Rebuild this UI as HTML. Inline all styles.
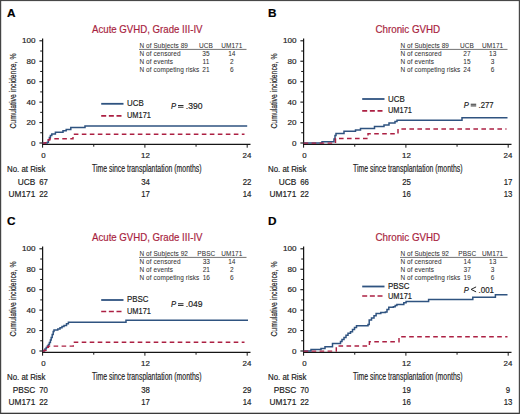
<!DOCTYPE html>
<html><head><meta charset="utf-8"><style>
html,body{margin:0;padding:0;background:#fff;}
svg{display:block;font-family:"Liberation Sans", sans-serif;}

</style></head><body>
<svg width="520" height="414" viewBox="0 0 520 414">
<rect x="0" y="0" width="520" height="414" fill="#fff"/>
<text x="7.00" y="17.10" font-size="11.8" fill="#000" stroke="#000" stroke-width="0.18" text-anchor="start" font-weight="bold">A</text>
<text x="92.00" y="32.50" font-size="10.6" fill="#a81e3e" stroke="#a81e3e" stroke-width="0.18" text-anchor="start" textLength="110.50" lengthAdjust="spacingAndGlyphs">Acute GVHD, Grade III-IV</text>
<text transform="translate(15.8,128.6) rotate(-90)" font-size="9.9" fill="#222" stroke="#222" stroke-width="0.18" textLength="75.2" lengthAdjust="spacingAndGlyphs">Cumulative incidence, %</text>
<line x1="42.60" y1="38.50" x2="42.60" y2="144.90" stroke="#151515" stroke-width="1.25"/>
<line x1="42.00" y1="144.30" x2="250.50" y2="144.30" stroke="#151515" stroke-width="1.2"/>
<line x1="39.40" y1="143.00" x2="42.60" y2="143.00" stroke="#151515" stroke-width="1.1"/>
<text x="35.50" y="145.60" font-size="7.9" fill="#222" stroke="#222" stroke-width="0.18" text-anchor="end" textLength="4.50" lengthAdjust="spacingAndGlyphs">0</text>
<line x1="40.20" y1="132.78" x2="42.60" y2="132.78" stroke="#151515" stroke-width="1.0"/>
<line x1="39.40" y1="122.56" x2="42.60" y2="122.56" stroke="#151515" stroke-width="1.1"/>
<text x="35.50" y="125.16" font-size="7.9" fill="#222" stroke="#222" stroke-width="0.18" text-anchor="end" textLength="9.01" lengthAdjust="spacingAndGlyphs">20</text>
<line x1="40.20" y1="112.34" x2="42.60" y2="112.34" stroke="#151515" stroke-width="1.0"/>
<line x1="39.40" y1="102.12" x2="42.60" y2="102.12" stroke="#151515" stroke-width="1.1"/>
<text x="35.50" y="104.72" font-size="7.9" fill="#222" stroke="#222" stroke-width="0.18" text-anchor="end" textLength="9.01" lengthAdjust="spacingAndGlyphs">40</text>
<line x1="40.20" y1="91.90" x2="42.60" y2="91.90" stroke="#151515" stroke-width="1.0"/>
<line x1="39.40" y1="81.68" x2="42.60" y2="81.68" stroke="#151515" stroke-width="1.1"/>
<text x="35.50" y="84.28" font-size="7.9" fill="#222" stroke="#222" stroke-width="0.18" text-anchor="end" textLength="9.01" lengthAdjust="spacingAndGlyphs">60</text>
<line x1="40.20" y1="71.46" x2="42.60" y2="71.46" stroke="#151515" stroke-width="1.0"/>
<line x1="39.40" y1="61.24" x2="42.60" y2="61.24" stroke="#151515" stroke-width="1.1"/>
<text x="35.50" y="63.84" font-size="7.9" fill="#222" stroke="#222" stroke-width="0.18" text-anchor="end" textLength="9.01" lengthAdjust="spacingAndGlyphs">80</text>
<line x1="40.20" y1="51.02" x2="42.60" y2="51.02" stroke="#151515" stroke-width="1.0"/>
<line x1="39.40" y1="40.80" x2="42.60" y2="40.80" stroke="#151515" stroke-width="1.1"/>
<text x="35.50" y="43.40" font-size="7.9" fill="#222" stroke="#222" stroke-width="0.18" text-anchor="end" textLength="13.51" lengthAdjust="spacingAndGlyphs">100</text>
<line x1="42.60" y1="144.30" x2="42.60" y2="147.70" stroke="#151515" stroke-width="1.0"/>
<text x="43.50" y="157.90" font-size="7.9" fill="#222" stroke="#222" stroke-width="0.18" text-anchor="middle" textLength="4.39" lengthAdjust="spacingAndGlyphs">0</text>
<line x1="93.75" y1="144.30" x2="93.75" y2="146.70" stroke="#151515" stroke-width="1.0"/>
<line x1="144.90" y1="144.30" x2="144.90" y2="147.70" stroke="#151515" stroke-width="1.0"/>
<text x="145.50" y="157.90" font-size="7.9" fill="#222" stroke="#222" stroke-width="0.18" text-anchor="middle" textLength="8.79" lengthAdjust="spacingAndGlyphs">12</text>
<line x1="196.05" y1="144.30" x2="196.05" y2="146.70" stroke="#151515" stroke-width="1.0"/>
<line x1="247.20" y1="144.30" x2="247.20" y2="147.70" stroke="#151515" stroke-width="1.0"/>
<text x="247.00" y="157.90" font-size="7.9" fill="#222" stroke="#222" stroke-width="0.18" text-anchor="middle" textLength="8.79" lengthAdjust="spacingAndGlyphs">24</text>
<text x="92.00" y="171.90" font-size="10.3" fill="#222" stroke="#222" stroke-width="0.18" text-anchor="start" textLength="109.50" lengthAdjust="spacingAndGlyphs">Time since transplantation (months)</text>
<text x="7.00" y="172.00" font-size="8.9" fill="#222" stroke="#222" stroke-width="0.18" text-anchor="start" textLength="38.50" lengthAdjust="spacingAndGlyphs">No. at Risk</text>
<text x="35.30" y="184.70" font-size="8.9" fill="#222" stroke="#222" stroke-width="0.18" text-anchor="end" textLength="17.57" lengthAdjust="spacingAndGlyphs">UCB</text>
<text x="43.50" y="184.70" font-size="8.9" fill="#222" stroke="#222" stroke-width="0.18" text-anchor="middle" textLength="8.68" lengthAdjust="spacingAndGlyphs">67</text>
<text x="145.50" y="184.70" font-size="8.9" fill="#222" stroke="#222" stroke-width="0.18" text-anchor="middle" textLength="8.68" lengthAdjust="spacingAndGlyphs">34</text>
<text x="247.00" y="184.70" font-size="8.9" fill="#222" stroke="#222" stroke-width="0.18" text-anchor="middle" textLength="8.68" lengthAdjust="spacingAndGlyphs">22</text>
<text x="35.30" y="197.20" font-size="8.9" fill="#222" stroke="#222" stroke-width="0.18" text-anchor="end" textLength="26.82" lengthAdjust="spacingAndGlyphs">UM171</text>
<text x="43.50" y="197.20" font-size="8.9" fill="#222" stroke="#222" stroke-width="0.18" text-anchor="middle" textLength="8.68" lengthAdjust="spacingAndGlyphs">22</text>
<text x="145.50" y="197.20" font-size="8.9" fill="#222" stroke="#222" stroke-width="0.18" text-anchor="middle" textLength="8.68" lengthAdjust="spacingAndGlyphs">17</text>
<text x="247.00" y="197.20" font-size="8.9" fill="#222" stroke="#222" stroke-width="0.18" text-anchor="middle" textLength="8.68" lengthAdjust="spacingAndGlyphs">14</text>
<text x="139.50" y="47.80" font-size="6.45" fill="#333" stroke="#333" stroke-width="0.05" text-anchor="start" textLength="48.43" lengthAdjust="spacing">N of Subjects 89</text>
<text x="139.50" y="55.80" font-size="6.45" fill="#333" stroke="#333" stroke-width="0.05" text-anchor="start" textLength="41.09" lengthAdjust="spacing">N of censored</text>
<text x="139.50" y="63.80" font-size="6.45" fill="#333" stroke="#333" stroke-width="0.05" text-anchor="start" textLength="33.38" lengthAdjust="spacing">N of events</text>
<text x="139.50" y="71.90" font-size="6.45" fill="#333" stroke="#333" stroke-width="0.05" text-anchor="start" textLength="59.79" lengthAdjust="spacing">N of competing risks</text>
<text x="206.00" y="47.80" font-size="6.5" fill="#333" stroke="#333" stroke-width="0.05" text-anchor="middle" textLength="13.93" lengthAdjust="spacing">UCB</text>
<text x="231.80" y="47.80" font-size="6.5" fill="#333" stroke="#333" stroke-width="0.05" text-anchor="middle" textLength="21.28" lengthAdjust="spacing">UM171</text>
<text x="206.00" y="55.80" font-size="6.5" fill="#333" stroke="#333" stroke-width="0.05" text-anchor="middle" textLength="7.34" lengthAdjust="spacing">35</text>
<text x="231.80" y="55.80" font-size="6.5" fill="#333" stroke="#333" stroke-width="0.05" text-anchor="middle" textLength="7.34" lengthAdjust="spacing">14</text>
<text x="206.00" y="63.80" font-size="6.5" fill="#333" stroke="#333" stroke-width="0.05" text-anchor="middle" textLength="6.85" lengthAdjust="spacing">11</text>
<text x="231.80" y="63.80" font-size="6.5" fill="#333" stroke="#333" stroke-width="0.05" text-anchor="middle" textLength="3.67" lengthAdjust="spacing">2</text>
<text x="206.00" y="71.90" font-size="6.5" fill="#333" stroke="#333" stroke-width="0.05" text-anchor="middle" textLength="7.34" lengthAdjust="spacing">21</text>
<text x="231.80" y="71.90" font-size="6.5" fill="#333" stroke="#333" stroke-width="0.05" text-anchor="middle" textLength="3.67" lengthAdjust="spacing">6</text>
<line x1="139.00" y1="49.40" x2="246.50" y2="49.40" stroke="#444" stroke-width="0.75"/>
<line x1="101.20" y1="103.80" x2="123.50" y2="103.80" stroke="#2f5380" stroke-width="1.8"/>
<line x1="101.20" y1="115.80" x2="123.50" y2="115.80" stroke="#ac2043" stroke-width="1.7" stroke-dasharray="5 2.65"/>
<text x="127.00" y="106.00" font-size="8.7" fill="#222" stroke="#222" stroke-width="0.18" text-anchor="start" textLength="16.68" lengthAdjust="spacingAndGlyphs">UCB</text>
<text x="127.00" y="117.80" font-size="8.7" fill="#222" stroke="#222" stroke-width="0.18" text-anchor="start" textLength="23.90" lengthAdjust="spacingAndGlyphs">UM171</text>
<text x="171.00" y="108.80" font-size="8.6" fill="#222" stroke="#222" stroke-width="0.18" text-anchor="start" textLength="5.10" lengthAdjust="spacingAndGlyphs" font-style="italic">P</text>
<rect x="178.00" y="105.05" width="5.5" height="0.95" fill="#222"/>
<rect x="178.00" y="106.75" width="5.5" height="0.95" fill="#222"/>
<text x="185.80" y="108.80" font-size="8.8" fill="#222" stroke="#222" stroke-width="0.18" text-anchor="start" textLength="16.70" lengthAdjust="spacingAndGlyphs">.390</text>
<path d="M42.60,143.10 H47.40 V142.20 H48.40 V139.80 H49.40 V137.40 H50.40 V135.40 H51.80 V134.00 H55.40 V132.30 H63.00 V130.80 H66.20 V129.40 H70.80 V127.60 H85.00 V125.90 H247.20" fill="none" stroke="#2f5380" stroke-width="1.5"/>
<path d="M42.60,143.10 H45.20 V142.60 H46.80 V141.20 H48.40 V139.80 H49.80 V138.80 H73.00 V134.30 H244.50" fill="none" stroke="#ac2043" stroke-width="1.45" stroke-dasharray="4.6 3.4"/>
<text x="268.00" y="17.10" font-size="11.8" fill="#000" stroke="#000" stroke-width="0.18" text-anchor="start" font-weight="bold">B</text>
<text x="375.40" y="32.50" font-size="10.6" fill="#a81e3e" stroke="#a81e3e" stroke-width="0.18" text-anchor="start" textLength="64.80" lengthAdjust="spacingAndGlyphs">Chronic GVHD</text>
<text transform="translate(276.8,128.6) rotate(-90)" font-size="9.9" fill="#222" stroke="#222" stroke-width="0.18" textLength="75.2" lengthAdjust="spacingAndGlyphs">Cumulative incidence, %</text>
<line x1="303.60" y1="38.50" x2="303.60" y2="144.90" stroke="#151515" stroke-width="1.25"/>
<line x1="303.00" y1="144.30" x2="511.50" y2="144.30" stroke="#151515" stroke-width="1.2"/>
<line x1="300.40" y1="143.00" x2="303.60" y2="143.00" stroke="#151515" stroke-width="1.1"/>
<text x="296.50" y="145.60" font-size="7.9" fill="#222" stroke="#222" stroke-width="0.18" text-anchor="end" textLength="4.50" lengthAdjust="spacingAndGlyphs">0</text>
<line x1="301.20" y1="132.78" x2="303.60" y2="132.78" stroke="#151515" stroke-width="1.0"/>
<line x1="300.40" y1="122.56" x2="303.60" y2="122.56" stroke="#151515" stroke-width="1.1"/>
<text x="296.50" y="125.16" font-size="7.9" fill="#222" stroke="#222" stroke-width="0.18" text-anchor="end" textLength="9.01" lengthAdjust="spacingAndGlyphs">20</text>
<line x1="301.20" y1="112.34" x2="303.60" y2="112.34" stroke="#151515" stroke-width="1.0"/>
<line x1="300.40" y1="102.12" x2="303.60" y2="102.12" stroke="#151515" stroke-width="1.1"/>
<text x="296.50" y="104.72" font-size="7.9" fill="#222" stroke="#222" stroke-width="0.18" text-anchor="end" textLength="9.01" lengthAdjust="spacingAndGlyphs">40</text>
<line x1="301.20" y1="91.90" x2="303.60" y2="91.90" stroke="#151515" stroke-width="1.0"/>
<line x1="300.40" y1="81.68" x2="303.60" y2="81.68" stroke="#151515" stroke-width="1.1"/>
<text x="296.50" y="84.28" font-size="7.9" fill="#222" stroke="#222" stroke-width="0.18" text-anchor="end" textLength="9.01" lengthAdjust="spacingAndGlyphs">60</text>
<line x1="301.20" y1="71.46" x2="303.60" y2="71.46" stroke="#151515" stroke-width="1.0"/>
<line x1="300.40" y1="61.24" x2="303.60" y2="61.24" stroke="#151515" stroke-width="1.1"/>
<text x="296.50" y="63.84" font-size="7.9" fill="#222" stroke="#222" stroke-width="0.18" text-anchor="end" textLength="9.01" lengthAdjust="spacingAndGlyphs">80</text>
<line x1="301.20" y1="51.02" x2="303.60" y2="51.02" stroke="#151515" stroke-width="1.0"/>
<line x1="300.40" y1="40.80" x2="303.60" y2="40.80" stroke="#151515" stroke-width="1.1"/>
<text x="296.50" y="43.40" font-size="7.9" fill="#222" stroke="#222" stroke-width="0.18" text-anchor="end" textLength="13.51" lengthAdjust="spacingAndGlyphs">100</text>
<line x1="303.60" y1="144.30" x2="303.60" y2="147.70" stroke="#151515" stroke-width="1.0"/>
<text x="304.50" y="157.90" font-size="7.9" fill="#222" stroke="#222" stroke-width="0.18" text-anchor="middle" textLength="4.39" lengthAdjust="spacingAndGlyphs">0</text>
<line x1="354.75" y1="144.30" x2="354.75" y2="146.70" stroke="#151515" stroke-width="1.0"/>
<line x1="405.90" y1="144.30" x2="405.90" y2="147.70" stroke="#151515" stroke-width="1.0"/>
<text x="406.50" y="157.90" font-size="7.9" fill="#222" stroke="#222" stroke-width="0.18" text-anchor="middle" textLength="8.79" lengthAdjust="spacingAndGlyphs">12</text>
<line x1="457.05" y1="144.30" x2="457.05" y2="146.70" stroke="#151515" stroke-width="1.0"/>
<line x1="508.20" y1="144.30" x2="508.20" y2="147.70" stroke="#151515" stroke-width="1.0"/>
<text x="508.00" y="157.90" font-size="7.9" fill="#222" stroke="#222" stroke-width="0.18" text-anchor="middle" textLength="8.79" lengthAdjust="spacingAndGlyphs">24</text>
<text x="353.00" y="171.90" font-size="10.3" fill="#222" stroke="#222" stroke-width="0.18" text-anchor="start" textLength="109.50" lengthAdjust="spacingAndGlyphs">Time since transplantation (months)</text>
<text x="268.00" y="172.00" font-size="8.9" fill="#222" stroke="#222" stroke-width="0.18" text-anchor="start" textLength="38.50" lengthAdjust="spacingAndGlyphs">No. at Risk</text>
<text x="296.30" y="184.70" font-size="8.9" fill="#222" stroke="#222" stroke-width="0.18" text-anchor="end" textLength="17.57" lengthAdjust="spacingAndGlyphs">UCB</text>
<text x="304.50" y="184.70" font-size="8.9" fill="#222" stroke="#222" stroke-width="0.18" text-anchor="middle" textLength="8.68" lengthAdjust="spacingAndGlyphs">66</text>
<text x="406.50" y="184.70" font-size="8.9" fill="#222" stroke="#222" stroke-width="0.18" text-anchor="middle" textLength="8.68" lengthAdjust="spacingAndGlyphs">25</text>
<text x="508.00" y="184.70" font-size="8.9" fill="#222" stroke="#222" stroke-width="0.18" text-anchor="middle" textLength="8.68" lengthAdjust="spacingAndGlyphs">17</text>
<text x="296.30" y="197.20" font-size="8.9" fill="#222" stroke="#222" stroke-width="0.18" text-anchor="end" textLength="26.82" lengthAdjust="spacingAndGlyphs">UM171</text>
<text x="304.50" y="197.20" font-size="8.9" fill="#222" stroke="#222" stroke-width="0.18" text-anchor="middle" textLength="8.68" lengthAdjust="spacingAndGlyphs">22</text>
<text x="406.50" y="197.20" font-size="8.9" fill="#222" stroke="#222" stroke-width="0.18" text-anchor="middle" textLength="8.68" lengthAdjust="spacingAndGlyphs">16</text>
<text x="508.00" y="197.20" font-size="8.9" fill="#222" stroke="#222" stroke-width="0.18" text-anchor="middle" textLength="8.68" lengthAdjust="spacingAndGlyphs">13</text>
<text x="400.50" y="47.80" font-size="6.45" fill="#333" stroke="#333" stroke-width="0.05" text-anchor="start" textLength="48.43" lengthAdjust="spacing">N of Subjects 89</text>
<text x="400.50" y="55.80" font-size="6.45" fill="#333" stroke="#333" stroke-width="0.05" text-anchor="start" textLength="41.09" lengthAdjust="spacing">N of censored</text>
<text x="400.50" y="63.80" font-size="6.45" fill="#333" stroke="#333" stroke-width="0.05" text-anchor="start" textLength="33.38" lengthAdjust="spacing">N of events</text>
<text x="400.50" y="71.90" font-size="6.45" fill="#333" stroke="#333" stroke-width="0.05" text-anchor="start" textLength="59.79" lengthAdjust="spacing">N of competing risks</text>
<text x="467.00" y="47.80" font-size="6.5" fill="#333" stroke="#333" stroke-width="0.05" text-anchor="middle" textLength="13.93" lengthAdjust="spacing">UCB</text>
<text x="492.60" y="47.80" font-size="6.5" fill="#333" stroke="#333" stroke-width="0.05" text-anchor="middle" textLength="21.28" lengthAdjust="spacing">UM171</text>
<text x="467.00" y="55.80" font-size="6.5" fill="#333" stroke="#333" stroke-width="0.05" text-anchor="middle" textLength="7.34" lengthAdjust="spacing">27</text>
<text x="492.60" y="55.80" font-size="6.5" fill="#333" stroke="#333" stroke-width="0.05" text-anchor="middle" textLength="7.34" lengthAdjust="spacing">13</text>
<text x="467.00" y="63.80" font-size="6.5" fill="#333" stroke="#333" stroke-width="0.05" text-anchor="middle" textLength="7.34" lengthAdjust="spacing">15</text>
<text x="492.60" y="63.80" font-size="6.5" fill="#333" stroke="#333" stroke-width="0.05" text-anchor="middle" textLength="3.67" lengthAdjust="spacing">3</text>
<text x="467.00" y="71.90" font-size="6.5" fill="#333" stroke="#333" stroke-width="0.05" text-anchor="middle" textLength="7.34" lengthAdjust="spacing">24</text>
<text x="492.60" y="71.90" font-size="6.5" fill="#333" stroke="#333" stroke-width="0.05" text-anchor="middle" textLength="3.67" lengthAdjust="spacing">6</text>
<line x1="400.00" y1="49.40" x2="507.50" y2="49.40" stroke="#444" stroke-width="0.75"/>
<line x1="362.20" y1="99.00" x2="384.50" y2="99.00" stroke="#2f5380" stroke-width="1.8"/>
<line x1="362.20" y1="110.80" x2="384.50" y2="110.80" stroke="#ac2043" stroke-width="1.7" stroke-dasharray="5 2.65"/>
<text x="388.00" y="101.60" font-size="8.7" fill="#222" stroke="#222" stroke-width="0.18" text-anchor="start" textLength="16.68" lengthAdjust="spacingAndGlyphs">UCB</text>
<text x="388.00" y="113.20" font-size="8.7" fill="#222" stroke="#222" stroke-width="0.18" text-anchor="start" textLength="23.90" lengthAdjust="spacingAndGlyphs">UM171</text>
<text x="463.70" y="107.50" font-size="8.6" fill="#222" stroke="#222" stroke-width="0.18" text-anchor="start" textLength="5.10" lengthAdjust="spacingAndGlyphs" font-style="italic">P</text>
<rect x="470.70" y="103.75" width="5.5" height="0.95" fill="#222"/>
<rect x="470.70" y="105.45" width="5.5" height="0.95" fill="#222"/>
<text x="478.50" y="107.50" font-size="8.8" fill="#222" stroke="#222" stroke-width="0.18" text-anchor="start" textLength="15.00" lengthAdjust="spacingAndGlyphs">.277</text>
<path d="M303.60,143.10 H322.00 V141.80 H334.00 V139.00 H335.00 V135.50 H336.00 V133.50 H344.00 V131.30 H355.50 V130.00 H360.50 V128.50 H374.50 V126.50 H384.00 V125.00 H389.00 V123.00 H395.00 V121.50 H397.00 V120.20 H462.00 V117.80 H507.50" fill="none" stroke="#2f5380" stroke-width="1.5"/>
<path d="M303.60,143.10 H335.50 V138.50 H368.00 V133.70 H398.00 V128.90 H506.50" fill="none" stroke="#ac2043" stroke-width="1.45" stroke-dasharray="4.6 3.4"/>
<text x="7.00" y="225.10" font-size="11.8" fill="#000" stroke="#000" stroke-width="0.18" text-anchor="start" font-weight="bold">C</text>
<text x="92.00" y="240.50" font-size="10.6" fill="#a81e3e" stroke="#a81e3e" stroke-width="0.18" text-anchor="start" textLength="110.50" lengthAdjust="spacingAndGlyphs">Acute GVHD, Grade III-IV</text>
<text transform="translate(15.8,336.6) rotate(-90)" font-size="9.9" fill="#222" stroke="#222" stroke-width="0.18" textLength="75.2" lengthAdjust="spacingAndGlyphs">Cumulative incidence, %</text>
<line x1="42.60" y1="246.50" x2="42.60" y2="352.90" stroke="#151515" stroke-width="1.25"/>
<line x1="42.00" y1="352.30" x2="250.50" y2="352.30" stroke="#151515" stroke-width="1.2"/>
<line x1="39.40" y1="351.00" x2="42.60" y2="351.00" stroke="#151515" stroke-width="1.1"/>
<text x="35.50" y="353.60" font-size="7.9" fill="#222" stroke="#222" stroke-width="0.18" text-anchor="end" textLength="4.50" lengthAdjust="spacingAndGlyphs">0</text>
<line x1="40.20" y1="340.78" x2="42.60" y2="340.78" stroke="#151515" stroke-width="1.0"/>
<line x1="39.40" y1="330.56" x2="42.60" y2="330.56" stroke="#151515" stroke-width="1.1"/>
<text x="35.50" y="333.16" font-size="7.9" fill="#222" stroke="#222" stroke-width="0.18" text-anchor="end" textLength="9.01" lengthAdjust="spacingAndGlyphs">20</text>
<line x1="40.20" y1="320.34" x2="42.60" y2="320.34" stroke="#151515" stroke-width="1.0"/>
<line x1="39.40" y1="310.12" x2="42.60" y2="310.12" stroke="#151515" stroke-width="1.1"/>
<text x="35.50" y="312.72" font-size="7.9" fill="#222" stroke="#222" stroke-width="0.18" text-anchor="end" textLength="9.01" lengthAdjust="spacingAndGlyphs">40</text>
<line x1="40.20" y1="299.90" x2="42.60" y2="299.90" stroke="#151515" stroke-width="1.0"/>
<line x1="39.40" y1="289.68" x2="42.60" y2="289.68" stroke="#151515" stroke-width="1.1"/>
<text x="35.50" y="292.28" font-size="7.9" fill="#222" stroke="#222" stroke-width="0.18" text-anchor="end" textLength="9.01" lengthAdjust="spacingAndGlyphs">60</text>
<line x1="40.20" y1="279.46" x2="42.60" y2="279.46" stroke="#151515" stroke-width="1.0"/>
<line x1="39.40" y1="269.24" x2="42.60" y2="269.24" stroke="#151515" stroke-width="1.1"/>
<text x="35.50" y="271.84" font-size="7.9" fill="#222" stroke="#222" stroke-width="0.18" text-anchor="end" textLength="9.01" lengthAdjust="spacingAndGlyphs">80</text>
<line x1="40.20" y1="259.02" x2="42.60" y2="259.02" stroke="#151515" stroke-width="1.0"/>
<line x1="39.40" y1="248.80" x2="42.60" y2="248.80" stroke="#151515" stroke-width="1.1"/>
<text x="35.50" y="251.40" font-size="7.9" fill="#222" stroke="#222" stroke-width="0.18" text-anchor="end" textLength="13.51" lengthAdjust="spacingAndGlyphs">100</text>
<line x1="42.60" y1="352.30" x2="42.60" y2="355.70" stroke="#151515" stroke-width="1.0"/>
<text x="43.50" y="365.90" font-size="7.9" fill="#222" stroke="#222" stroke-width="0.18" text-anchor="middle" textLength="4.39" lengthAdjust="spacingAndGlyphs">0</text>
<line x1="93.75" y1="352.30" x2="93.75" y2="354.70" stroke="#151515" stroke-width="1.0"/>
<line x1="144.90" y1="352.30" x2="144.90" y2="355.70" stroke="#151515" stroke-width="1.0"/>
<text x="145.50" y="365.90" font-size="7.9" fill="#222" stroke="#222" stroke-width="0.18" text-anchor="middle" textLength="8.79" lengthAdjust="spacingAndGlyphs">12</text>
<line x1="196.05" y1="352.30" x2="196.05" y2="354.70" stroke="#151515" stroke-width="1.0"/>
<line x1="247.20" y1="352.30" x2="247.20" y2="355.70" stroke="#151515" stroke-width="1.0"/>
<text x="247.00" y="365.90" font-size="7.9" fill="#222" stroke="#222" stroke-width="0.18" text-anchor="middle" textLength="8.79" lengthAdjust="spacingAndGlyphs">24</text>
<text x="92.00" y="379.90" font-size="10.3" fill="#222" stroke="#222" stroke-width="0.18" text-anchor="start" textLength="109.50" lengthAdjust="spacingAndGlyphs">Time since transplantation (months)</text>
<text x="7.00" y="380.00" font-size="8.9" fill="#222" stroke="#222" stroke-width="0.18" text-anchor="start" textLength="38.50" lengthAdjust="spacingAndGlyphs">No. at Risk</text>
<text x="35.30" y="392.70" font-size="8.9" fill="#222" stroke="#222" stroke-width="0.18" text-anchor="end" textLength="22.66" lengthAdjust="spacingAndGlyphs">PBSC</text>
<text x="43.50" y="392.70" font-size="8.9" fill="#222" stroke="#222" stroke-width="0.18" text-anchor="middle" textLength="8.68" lengthAdjust="spacingAndGlyphs">70</text>
<text x="145.50" y="392.70" font-size="8.9" fill="#222" stroke="#222" stroke-width="0.18" text-anchor="middle" textLength="8.68" lengthAdjust="spacingAndGlyphs">38</text>
<text x="247.00" y="392.70" font-size="8.9" fill="#222" stroke="#222" stroke-width="0.18" text-anchor="middle" textLength="8.68" lengthAdjust="spacingAndGlyphs">29</text>
<text x="35.30" y="405.20" font-size="8.9" fill="#222" stroke="#222" stroke-width="0.18" text-anchor="end" textLength="26.82" lengthAdjust="spacingAndGlyphs">UM171</text>
<text x="43.50" y="405.20" font-size="8.9" fill="#222" stroke="#222" stroke-width="0.18" text-anchor="middle" textLength="8.68" lengthAdjust="spacingAndGlyphs">22</text>
<text x="145.50" y="405.20" font-size="8.9" fill="#222" stroke="#222" stroke-width="0.18" text-anchor="middle" textLength="8.68" lengthAdjust="spacingAndGlyphs">17</text>
<text x="247.00" y="405.20" font-size="8.9" fill="#222" stroke="#222" stroke-width="0.18" text-anchor="middle" textLength="8.68" lengthAdjust="spacingAndGlyphs">14</text>
<text x="139.50" y="255.80" font-size="6.45" fill="#333" stroke="#333" stroke-width="0.05" text-anchor="start" textLength="48.43" lengthAdjust="spacing">N of Subjects 92</text>
<text x="139.50" y="263.80" font-size="6.45" fill="#333" stroke="#333" stroke-width="0.05" text-anchor="start" textLength="41.09" lengthAdjust="spacing">N of censored</text>
<text x="139.50" y="271.80" font-size="6.45" fill="#333" stroke="#333" stroke-width="0.05" text-anchor="start" textLength="33.38" lengthAdjust="spacing">N of events</text>
<text x="139.50" y="279.90" font-size="6.45" fill="#333" stroke="#333" stroke-width="0.05" text-anchor="start" textLength="59.79" lengthAdjust="spacing">N of competing risks</text>
<text x="206.30" y="255.80" font-size="6.5" fill="#333" stroke="#333" stroke-width="0.05" text-anchor="middle" textLength="17.97" lengthAdjust="spacing">PBSC</text>
<text x="231.80" y="255.80" font-size="6.5" fill="#333" stroke="#333" stroke-width="0.05" text-anchor="middle" textLength="21.28" lengthAdjust="spacing">UM171</text>
<text x="206.30" y="263.80" font-size="6.5" fill="#333" stroke="#333" stroke-width="0.05" text-anchor="middle" textLength="7.34" lengthAdjust="spacing">33</text>
<text x="231.80" y="263.80" font-size="6.5" fill="#333" stroke="#333" stroke-width="0.05" text-anchor="middle" textLength="7.34" lengthAdjust="spacing">14</text>
<text x="206.30" y="271.80" font-size="6.5" fill="#333" stroke="#333" stroke-width="0.05" text-anchor="middle" textLength="7.34" lengthAdjust="spacing">21</text>
<text x="231.80" y="271.80" font-size="6.5" fill="#333" stroke="#333" stroke-width="0.05" text-anchor="middle" textLength="3.67" lengthAdjust="spacing">2</text>
<text x="206.30" y="279.90" font-size="6.5" fill="#333" stroke="#333" stroke-width="0.05" text-anchor="middle" textLength="7.34" lengthAdjust="spacing">16</text>
<text x="231.80" y="279.90" font-size="6.5" fill="#333" stroke="#333" stroke-width="0.05" text-anchor="middle" textLength="3.67" lengthAdjust="spacing">6</text>
<line x1="139.00" y1="257.40" x2="246.50" y2="257.40" stroke="#444" stroke-width="0.75"/>
<line x1="101.20" y1="300.00" x2="123.50" y2="300.00" stroke="#2f5380" stroke-width="1.8"/>
<line x1="101.20" y1="311.50" x2="123.50" y2="311.50" stroke="#ac2043" stroke-width="1.7" stroke-dasharray="5 2.65"/>
<text x="127.00" y="302.20" font-size="8.7" fill="#222" stroke="#222" stroke-width="0.18" text-anchor="start" textLength="21.51" lengthAdjust="spacingAndGlyphs">PBSC</text>
<text x="127.00" y="314.00" font-size="8.7" fill="#222" stroke="#222" stroke-width="0.18" text-anchor="start" textLength="23.90" lengthAdjust="spacingAndGlyphs">UM171</text>
<text x="171.00" y="307.00" font-size="8.6" fill="#222" stroke="#222" stroke-width="0.18" text-anchor="start" textLength="5.10" lengthAdjust="spacingAndGlyphs" font-style="italic">P</text>
<rect x="178.00" y="303.25" width="5.5" height="0.95" fill="#222"/>
<rect x="178.00" y="304.95" width="5.5" height="0.95" fill="#222"/>
<text x="185.80" y="307.00" font-size="8.8" fill="#222" stroke="#222" stroke-width="0.18" text-anchor="start" textLength="16.70" lengthAdjust="spacingAndGlyphs">.049</text>
<path d="M42.60,351.10 H44.00 V350.40 H45.00 V349.00 H46.20 V347.60 H47.40 V346.00 H48.40 V344.60 H49.40 V342.60 H50.40 V340.00 H51.20 V337.60 H52.20 V334.50 H53.20 V331.60 H54.00 V330.00 H57.80 V329.00 H60.00 V327.80 H62.00 V326.60 H64.00 V325.60 H66.50 V323.80 H68.40 V322.20 H126.00 V320.30 H248.00" fill="none" stroke="#2f5380" stroke-width="1.5"/>
<path d="M42.60,351.10 H44.40 V350.20 H46.00 V348.40 H47.60 V347.20 H48.40 V346.10 H73.30 V342.20 H244.50" fill="none" stroke="#ac2043" stroke-width="1.45" stroke-dasharray="4.6 3.4"/>
<text x="268.00" y="225.10" font-size="11.8" fill="#000" stroke="#000" stroke-width="0.18" text-anchor="start" font-weight="bold">D</text>
<text x="375.40" y="240.50" font-size="10.6" fill="#a81e3e" stroke="#a81e3e" stroke-width="0.18" text-anchor="start" textLength="64.80" lengthAdjust="spacingAndGlyphs">Chronic GVHD</text>
<text transform="translate(276.8,336.6) rotate(-90)" font-size="9.9" fill="#222" stroke="#222" stroke-width="0.18" textLength="75.2" lengthAdjust="spacingAndGlyphs">Cumulative incidence, %</text>
<line x1="303.60" y1="246.50" x2="303.60" y2="352.90" stroke="#151515" stroke-width="1.25"/>
<line x1="303.00" y1="352.30" x2="511.50" y2="352.30" stroke="#151515" stroke-width="1.2"/>
<line x1="300.40" y1="351.00" x2="303.60" y2="351.00" stroke="#151515" stroke-width="1.1"/>
<text x="296.50" y="353.60" font-size="7.9" fill="#222" stroke="#222" stroke-width="0.18" text-anchor="end" textLength="4.50" lengthAdjust="spacingAndGlyphs">0</text>
<line x1="301.20" y1="340.78" x2="303.60" y2="340.78" stroke="#151515" stroke-width="1.0"/>
<line x1="300.40" y1="330.56" x2="303.60" y2="330.56" stroke="#151515" stroke-width="1.1"/>
<text x="296.50" y="333.16" font-size="7.9" fill="#222" stroke="#222" stroke-width="0.18" text-anchor="end" textLength="9.01" lengthAdjust="spacingAndGlyphs">20</text>
<line x1="301.20" y1="320.34" x2="303.60" y2="320.34" stroke="#151515" stroke-width="1.0"/>
<line x1="300.40" y1="310.12" x2="303.60" y2="310.12" stroke="#151515" stroke-width="1.1"/>
<text x="296.50" y="312.72" font-size="7.9" fill="#222" stroke="#222" stroke-width="0.18" text-anchor="end" textLength="9.01" lengthAdjust="spacingAndGlyphs">40</text>
<line x1="301.20" y1="299.90" x2="303.60" y2="299.90" stroke="#151515" stroke-width="1.0"/>
<line x1="300.40" y1="289.68" x2="303.60" y2="289.68" stroke="#151515" stroke-width="1.1"/>
<text x="296.50" y="292.28" font-size="7.9" fill="#222" stroke="#222" stroke-width="0.18" text-anchor="end" textLength="9.01" lengthAdjust="spacingAndGlyphs">60</text>
<line x1="301.20" y1="279.46" x2="303.60" y2="279.46" stroke="#151515" stroke-width="1.0"/>
<line x1="300.40" y1="269.24" x2="303.60" y2="269.24" stroke="#151515" stroke-width="1.1"/>
<text x="296.50" y="271.84" font-size="7.9" fill="#222" stroke="#222" stroke-width="0.18" text-anchor="end" textLength="9.01" lengthAdjust="spacingAndGlyphs">80</text>
<line x1="301.20" y1="259.02" x2="303.60" y2="259.02" stroke="#151515" stroke-width="1.0"/>
<line x1="300.40" y1="248.80" x2="303.60" y2="248.80" stroke="#151515" stroke-width="1.1"/>
<text x="296.50" y="251.40" font-size="7.9" fill="#222" stroke="#222" stroke-width="0.18" text-anchor="end" textLength="13.51" lengthAdjust="spacingAndGlyphs">100</text>
<line x1="303.60" y1="352.30" x2="303.60" y2="355.70" stroke="#151515" stroke-width="1.0"/>
<text x="304.50" y="365.90" font-size="7.9" fill="#222" stroke="#222" stroke-width="0.18" text-anchor="middle" textLength="4.39" lengthAdjust="spacingAndGlyphs">0</text>
<line x1="354.75" y1="352.30" x2="354.75" y2="354.70" stroke="#151515" stroke-width="1.0"/>
<line x1="405.90" y1="352.30" x2="405.90" y2="355.70" stroke="#151515" stroke-width="1.0"/>
<text x="406.50" y="365.90" font-size="7.9" fill="#222" stroke="#222" stroke-width="0.18" text-anchor="middle" textLength="8.79" lengthAdjust="spacingAndGlyphs">12</text>
<line x1="457.05" y1="352.30" x2="457.05" y2="354.70" stroke="#151515" stroke-width="1.0"/>
<line x1="508.20" y1="352.30" x2="508.20" y2="355.70" stroke="#151515" stroke-width="1.0"/>
<text x="508.00" y="365.90" font-size="7.9" fill="#222" stroke="#222" stroke-width="0.18" text-anchor="middle" textLength="8.79" lengthAdjust="spacingAndGlyphs">24</text>
<text x="353.00" y="379.90" font-size="10.3" fill="#222" stroke="#222" stroke-width="0.18" text-anchor="start" textLength="109.50" lengthAdjust="spacingAndGlyphs">Time since transplantation (months)</text>
<text x="268.00" y="380.00" font-size="8.9" fill="#222" stroke="#222" stroke-width="0.18" text-anchor="start" textLength="38.50" lengthAdjust="spacingAndGlyphs">No. at Risk</text>
<text x="296.30" y="392.70" font-size="8.9" fill="#222" stroke="#222" stroke-width="0.18" text-anchor="end" textLength="22.66" lengthAdjust="spacingAndGlyphs">PBSC</text>
<text x="304.50" y="392.70" font-size="8.9" fill="#222" stroke="#222" stroke-width="0.18" text-anchor="middle" textLength="8.68" lengthAdjust="spacingAndGlyphs">70</text>
<text x="406.50" y="392.70" font-size="8.9" fill="#222" stroke="#222" stroke-width="0.18" text-anchor="middle" textLength="8.68" lengthAdjust="spacingAndGlyphs">19</text>
<text x="508.00" y="392.70" font-size="8.9" fill="#222" stroke="#222" stroke-width="0.18" text-anchor="middle" textLength="4.34" lengthAdjust="spacingAndGlyphs">9</text>
<text x="296.30" y="405.20" font-size="8.9" fill="#222" stroke="#222" stroke-width="0.18" text-anchor="end" textLength="26.82" lengthAdjust="spacingAndGlyphs">UM171</text>
<text x="304.50" y="405.20" font-size="8.9" fill="#222" stroke="#222" stroke-width="0.18" text-anchor="middle" textLength="8.68" lengthAdjust="spacingAndGlyphs">22</text>
<text x="406.50" y="405.20" font-size="8.9" fill="#222" stroke="#222" stroke-width="0.18" text-anchor="middle" textLength="8.68" lengthAdjust="spacingAndGlyphs">16</text>
<text x="508.00" y="405.20" font-size="8.9" fill="#222" stroke="#222" stroke-width="0.18" text-anchor="middle" textLength="8.68" lengthAdjust="spacingAndGlyphs">13</text>
<text x="400.50" y="255.80" font-size="6.45" fill="#333" stroke="#333" stroke-width="0.05" text-anchor="start" textLength="48.43" lengthAdjust="spacing">N of Subjects 92</text>
<text x="400.50" y="263.80" font-size="6.45" fill="#333" stroke="#333" stroke-width="0.05" text-anchor="start" textLength="41.09" lengthAdjust="spacing">N of censored</text>
<text x="400.50" y="271.80" font-size="6.45" fill="#333" stroke="#333" stroke-width="0.05" text-anchor="start" textLength="33.38" lengthAdjust="spacing">N of events</text>
<text x="400.50" y="279.90" font-size="6.45" fill="#333" stroke="#333" stroke-width="0.05" text-anchor="start" textLength="59.79" lengthAdjust="spacing">N of competing risks</text>
<text x="467.20" y="255.80" font-size="6.5" fill="#333" stroke="#333" stroke-width="0.05" text-anchor="middle" textLength="17.97" lengthAdjust="spacing">PBSC</text>
<text x="492.60" y="255.80" font-size="6.5" fill="#333" stroke="#333" stroke-width="0.05" text-anchor="middle" textLength="21.28" lengthAdjust="spacing">UM171</text>
<text x="467.20" y="263.80" font-size="6.5" fill="#333" stroke="#333" stroke-width="0.05" text-anchor="middle" textLength="7.34" lengthAdjust="spacing">14</text>
<text x="492.60" y="263.80" font-size="6.5" fill="#333" stroke="#333" stroke-width="0.05" text-anchor="middle" textLength="7.34" lengthAdjust="spacing">13</text>
<text x="467.20" y="271.80" font-size="6.5" fill="#333" stroke="#333" stroke-width="0.05" text-anchor="middle" textLength="7.34" lengthAdjust="spacing">37</text>
<text x="492.60" y="271.80" font-size="6.5" fill="#333" stroke="#333" stroke-width="0.05" text-anchor="middle" textLength="3.67" lengthAdjust="spacing">3</text>
<text x="467.20" y="279.90" font-size="6.5" fill="#333" stroke="#333" stroke-width="0.05" text-anchor="middle" textLength="7.34" lengthAdjust="spacing">19</text>
<text x="492.60" y="279.90" font-size="6.5" fill="#333" stroke="#333" stroke-width="0.05" text-anchor="middle" textLength="3.67" lengthAdjust="spacing">6</text>
<line x1="400.00" y1="257.40" x2="507.50" y2="257.40" stroke="#444" stroke-width="0.75"/>
<line x1="362.20" y1="286.50" x2="384.50" y2="286.50" stroke="#2f5380" stroke-width="1.8"/>
<line x1="362.20" y1="296.00" x2="384.50" y2="296.00" stroke="#ac2043" stroke-width="1.7" stroke-dasharray="5 2.65"/>
<text x="388.00" y="288.80" font-size="8.7" fill="#222" stroke="#222" stroke-width="0.18" text-anchor="start" textLength="21.51" lengthAdjust="spacingAndGlyphs">PBSC</text>
<text x="388.00" y="298.50" font-size="8.7" fill="#222" stroke="#222" stroke-width="0.18" text-anchor="start" textLength="23.90" lengthAdjust="spacingAndGlyphs">UM171</text>
<text x="463.70" y="292.50" font-size="8.6" fill="#222" stroke="#222" stroke-width="0.18" text-anchor="start" textLength="5.10" lengthAdjust="spacingAndGlyphs" font-style="italic">P</text>
<polyline points="476.10,286.90 471.10,289.40 476.10,291.90" fill="none" stroke="#222" stroke-width="1.0"/>
<text x="478.50" y="292.50" font-size="8.8" fill="#222" stroke="#222" stroke-width="0.18" text-anchor="start" textLength="15.50" lengthAdjust="spacingAndGlyphs">.001</text>
<path d="M303.60,351.10 H311.00 V349.50 H321.00 V348.50 H325.00 V346.70 H332.50 V343.50 H340.50 V341.50 H342.00 V339.50 H344.00 V337.50 H346.00 V335.20 H348.00 V333.20 H350.50 V331.80 H352.50 V329.50 H354.50 V327.60 H356.50 V325.70 H368.00 V324.60 H369.20 V320.00 H371.50 V318.00 H374.00 V315.80 H376.10 V313.60 H380.80 V312.50 H385.40 V311.90 H387.00 V309.50 H388.80 V307.30 H393.40 V306.70 H395.20 V305.60 H396.90 V304.40 H403.80 V302.80 H406.10 V301.50 H428.60 V299.50 H472.80 V297.30 H495.40 V294.80 H507.50" fill="none" stroke="#2f5380" stroke-width="1.5"/>
<path d="M303.60,351.10 H336.30 V346.00 H369.40 V341.80 H399.00 V336.70 H507.50" fill="none" stroke="#ac2043" stroke-width="1.45" stroke-dasharray="4.6 3.4"/>
<rect x="0" y="0" width="520" height="1.1" fill="#484848"/>
<rect x="0" y="412.7" width="520" height="1.3" fill="#3a3a3a"/>
<rect x="0" y="0" width="1.2" height="414" fill="#444"/>
<rect x="518.8" y="0" width="1.2" height="414" fill="#484848"/>
</svg></body></html>
